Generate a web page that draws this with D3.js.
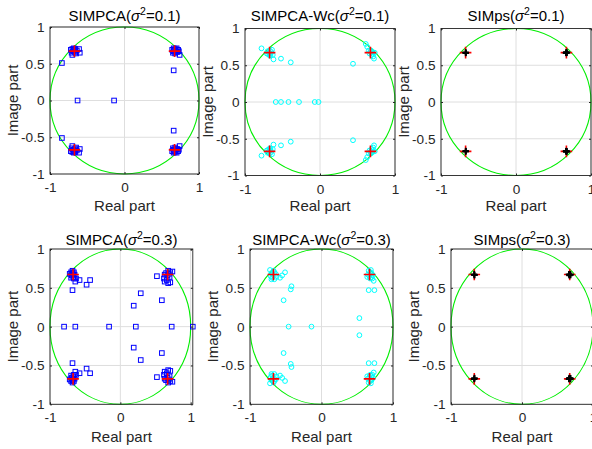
<!DOCTYPE html>
<html>
<head>
<meta charset="utf-8">
<script src="https://cdn.jsdelivr.net/npm/d3@7"></script>
<style>
  html, body { margin: 0; padding: 0; background: #fff; }
  svg { display: block; }
</style>
</head>
<body>
<svg id="chart" width="592" height="449"></svg>
<script>
// ---------------- DATA ----------------
const xTickValues = [-1, 0, 1];
const yTickValues = [-1, -0.5, 0, 0.5, 1];
const xTickLabels = ["-1", "0", "1"];
const yTickLabels = ["-1", "-0.5", "0", "0.5", "1"];

const methodNames = ["SIMPCA", "SIMPCA-Wc", "SIMps", "SIMPCA", "SIMPCA-Wc", "SIMps"];
const noiseLevels = ["0.1", "0.1", "0.1", "0.3", "0.3", "0.3"];

// true poles (real, imag)
const truePoles = [[0.672, 0.672], [0.672, -0.672], [-0.672, 0.672], [-0.672, -0.672]];

// estimated poles (real, imag)
const simpca01 = [
  [-0.72,0.69],[-0.70,0.70],[-0.68,0.69],[-0.66,0.70],[-0.69,0.67],[-0.67,0.66],[-0.71,0.65],[-0.70,0.62],[-0.64,0.68],[-0.61,0.70],[-0.60,0.65],[-0.65,0.64],[-0.68,0.71],[-0.66,0.68],
  [-0.72,-0.69],[-0.70,-0.70],[-0.68,-0.69],[-0.66,-0.70],[-0.69,-0.67],[-0.67,-0.66],[-0.71,-0.65],[-0.70,-0.62],[-0.64,-0.68],[-0.61,-0.71],[-0.60,-0.66],[-0.65,-0.64],[-0.68,-0.71],[-0.66,-0.68],
  [0.64,0.69],[0.66,0.71],[0.68,0.70],[0.70,0.71],[0.72,0.69],[0.66,0.67],[0.69,0.66],[0.71,0.66],[0.65,0.65],[0.68,0.64],[0.74,0.62],[0.73,0.67],[0.67,0.68],
  [0.64,-0.69],[0.66,-0.71],[0.68,-0.70],[0.70,-0.71],[0.72,-0.69],[0.66,-0.67],[0.69,-0.66],[0.71,-0.66],[0.65,-0.65],[0.68,-0.64],[0.74,-0.62],[0.73,-0.67],[0.67,-0.68],
  [-0.84,0.51],[-0.84,-0.51],[-0.63,0],[-0.14,0],[0.66,0.41],[0.66,-0.41]
];
const simpcaWc01 = [
  [-0.78,0.73],[-0.70,0.69],[-0.67,0.70],[-0.64,0.71],[-0.66,0.66],[-0.69,0.65],[-0.63,0.64],[-0.67,0.63],[-0.62,0.58],[-0.68,0.67],[-0.65,0.68],[-0.71,0.66],[-0.66,0.64],
  [-0.52,0.59],[-0.39,0.54],
  [-0.78,-0.73],[-0.70,-0.69],[-0.67,-0.70],[-0.64,-0.71],[-0.66,-0.66],[-0.69,-0.65],[-0.63,-0.64],[-0.67,-0.63],[-0.62,-0.58],[-0.68,-0.67],[-0.65,-0.68],[-0.71,-0.66],[-0.66,-0.64],
  [-0.52,-0.59],[-0.39,-0.54],
  [-0.59,0],[-0.52,0],[-0.42,0],[-0.28,0],[-0.07,0],[-0.02,0],
  [0.44,0.52],[0.44,-0.52],
  [0.61,0.79],[0.63,0.75],[0.65,0.70],[0.68,0.70],[0.70,0.68],[0.73,0.67],[0.69,0.64],[0.66,0.66],[0.71,0.62],[0.72,0.59],[0.67,0.68],[0.70,0.66],
  [0.61,-0.79],[0.63,-0.75],[0.65,-0.70],[0.68,-0.70],[0.70,-0.68],[0.73,-0.67],[0.69,-0.64],[0.66,-0.66],[0.71,-0.62],[0.72,-0.59],[0.67,-0.68],[0.70,-0.66]
];
const simps01 = [
  [0.665,0.668],[0.675,0.675],[0.670,0.665],[0.680,0.670],[0.670,0.678],
  [0.665,-0.668],[0.675,-0.675],[0.670,-0.665],[0.680,-0.670],[0.670,-0.678],
  [-0.668,0.670],[-0.672,0.675],[-0.670,0.665],
  [-0.668,-0.670],[-0.672,-0.675],[-0.670,-0.665]
];
const simpca03 = [
  [-0.72,0.68],[-0.70,0.70],[-0.68,0.69],[-0.66,0.70],[-0.69,0.66],[-0.67,0.64],[-0.65,0.67],[-0.63,0.62],[-0.64,0.58],[-0.58,0.60],[-0.70,0.63],[-0.66,0.62],[-0.68,0.72],[-0.67,0.67],
  [-0.68,0.47],[-0.48,0.54],[-0.43,0.60],
  [-0.72,-0.68],[-0.70,-0.70],[-0.68,-0.69],[-0.66,-0.70],[-0.69,-0.66],[-0.67,-0.64],[-0.65,-0.67],[-0.63,-0.62],[-0.64,-0.58],[-0.58,-0.60],[-0.70,-0.63],[-0.66,-0.62],[-0.68,-0.72],[-0.67,-0.67],
  [-0.68,-0.47],[-0.48,-0.54],[-0.43,-0.60],
  [-0.80,0],[-0.64,0],[-0.16,0],[0.22,0],[0.73,0],[1.03,0],
  [0.19,0.27],[0.19,-0.27],[0.29,0.43],[0.29,-0.43],[0.59,0.34],[0.59,-0.34],
  [0.52,0.65],[0.62,0.62],[0.63,0.67],[0.65,0.69],[0.67,0.66],[0.69,0.68],[0.71,0.70],[0.74,0.71],[0.70,0.64],[0.66,0.60],[0.68,0.56],[0.71,0.57],[0.63,0.58],[0.68,0.72],
  [0.52,-0.65],[0.62,-0.62],[0.63,-0.67],[0.65,-0.69],[0.67,-0.66],[0.69,-0.68],[0.71,-0.70],[0.74,-0.71],[0.70,-0.64],[0.66,-0.60],[0.68,-0.56],[0.71,-0.57],[0.63,-0.58],[0.68,-0.72]
];
const simpcaWc03 = [
  [-0.72,0.73],[-0.70,0.69],[-0.68,0.67],[-0.66,0.70],[-0.69,0.63],[-0.66,0.61],[-0.63,0.64],[-0.58,0.63],[-0.55,0.66],[-0.51,0.70],[-0.71,0.65],[-0.67,0.72],[-0.64,0.68],[-0.70,0.61],
  [-0.42,0.52],[-0.43,0.48],[-0.53,0.34],
  [-0.72,-0.73],[-0.70,-0.69],[-0.68,-0.67],[-0.66,-0.70],[-0.69,-0.63],[-0.66,-0.61],[-0.63,-0.64],[-0.58,-0.63],[-0.55,-0.66],[-0.51,-0.70],[-0.71,-0.65],[-0.67,-0.72],[-0.64,-0.68],[-0.70,-0.61],
  [-0.42,-0.52],[-0.43,-0.48],[-0.53,-0.34],
  [-0.46,0],[-0.14,0],
  [0.53,0.11],[0.53,-0.11],[0.66,0.47],[0.74,0.47],[0.73,0.59],[0.66,-0.47],[0.74,-0.47],[0.73,-0.59],
  [0.66,0.72],[0.68,0.70],[0.70,0.69],[0.65,0.67],[0.67,0.65],[0.70,0.64],[0.72,0.66],[0.68,0.62],[0.64,0.64],[0.69,0.73],[0.71,0.62],
  [0.66,-0.72],[0.68,-0.70],[0.70,-0.69],[0.65,-0.67],[0.67,-0.65],[0.70,-0.64],[0.72,-0.66],[0.68,-0.62],[0.64,-0.64],[0.69,-0.73],[0.71,-0.62]
];
const simps03 = [
  [0.665,0.665],[0.680,0.675],[0.670,0.660],[0.685,0.665],[0.660,0.675],
  [0.665,-0.665],[0.680,-0.675],[0.670,-0.660],[0.685,-0.665],[0.660,-0.675],
  [-0.668,0.668],[-0.675,0.675],[-0.670,0.662],
  [-0.668,-0.668],[-0.675,-0.675],[-0.670,-0.662]
];
const estimates = [simpca01, simpcaWc01, simps01, simpca03, simpcaWc03, simps03];
const markerKinds = ["square", "circle", "plus", "square", "circle", "plus"];
const xMaxValues = [1, 1, 1, 1.03, 1, 1];

// ---------------- LAYOUT / STYLE ----------------
const layout = [
  {left: 50,  right: 199, top: 27,   bottom: 174,   titleY: 20.5, xlabY: 210.5},
  {left: 245, right: 395, top: 28.5, bottom: 175.5, titleY: 20.5, xlabY: 210.5},
  {left: 441, right: 591, top: 28.5, bottom: 175.5, titleY: 20.5, xlabY: 210.5},
  {left: 50,  right: 192.8, top: 249, bottom: 404.3, titleY: 245, xlabY: 441.5},
  {left: 250, right: 393, top: 249, bottom: 404.3, titleY: 245, xlabY: 441.5},
  {left: 451, right: 593, top: 249, bottom: 404.3, titleY: 245, xlabY: 441.5}
];
const FONT = "'Liberation Sans', Arial, Helvetica, sans-serif";
const TEXT = "#262626";
const AXIS = "#262626";
const GRID = "#dedede";

const svg = d3.select("#chart");
svg.append("rect").attr("width", 592).attr("height", 449).attr("fill", "#fff");

layout.forEach((L, i) => {
  const x = d3.scaleLinear().domain([-1, xMaxValues[i]]).range([L.left, L.right]);
  const y = d3.scaleLinear().domain([-1, 1]).range([L.bottom, L.top]);
  const g = svg.append("g");

  // grid
  g.append("g").selectAll("line").data(xTickValues).join("line")
    .attr("x1", d => x(d)).attr("x2", d => x(d))
    .attr("y1", L.top).attr("y2", L.bottom)
    .attr("stroke", GRID).attr("stroke-width", 1);
  g.append("g").selectAll("line").data(yTickValues).join("line")
    .attr("y1", d => y(d)).attr("y2", d => y(d))
    .attr("x1", L.left).attr("x2", L.right)
    .attr("stroke", GRID).attr("stroke-width", 1);

  // unit circle
  g.append("ellipse")
    .attr("cx", x(0)).attr("cy", y(0))
    .attr("rx", x(1) - x(0)).attr("ry", y(0) - y(1))
    .attr("fill", "none").attr("stroke", "#00ee00").attr("stroke-width", 1.1);

  const drawTrue = () => {
    g.append("g").selectAll("path").data(truePoles).join("path")
      .attr("d", d => {
        const cx = x(d[0]), cy = y(d[1]), s = 5.8;
        return `M${cx - s},${cy}H${cx + s}M${cx},${cy - s}V${cy + s}`;
      })
      .attr("stroke", "#ff0000").attr("stroke-width", 1.6).attr("fill", "none");
  };

  const pts = estimates[i];
  const kind = markerKinds[i];
  if (kind === "square") {
    g.append("g").selectAll("rect").data(pts).join("rect")
      .attr("x", d => x(d[0]) - 2.3).attr("y", d => y(d[1]) - 2.3)
      .attr("width", 4.6).attr("height", 4.6)
      .attr("fill", "none").attr("stroke", "#0000ff").attr("stroke-width", 1);
    drawTrue();
  } else if (kind === "circle") {
    g.append("g").selectAll("circle").data(pts).join("circle")
      .attr("cx", d => x(d[0])).attr("cy", d => y(d[1])).attr("r", 2.4)
      .attr("fill", "none").attr("stroke", "#00ffff").attr("stroke-width", 1);
    drawTrue();
  } else {
    drawTrue();
    g.append("g").selectAll("path").data(pts).join("path")
      .attr("d", d => {
        const cx = x(d[0]), cy = y(d[1]), s = 3.2;
        return `M${cx - s},${cy}H${cx + s}M${cx},${cy - s}V${cy + s}`;
      })
      .attr("stroke", "#000").attr("stroke-width", 1.7).attr("fill", "none");
  }

  // axes
  const styleAxis = sel => {
    sel.select(".domain").remove();
    sel.selectAll("line").attr("stroke", AXIS);
    sel.selectAll("text").attr("fill", TEXT).attr("font-family", FONT).attr("font-size", 13.6);
  };
  g.append("g").attr("transform", `translate(0,${L.bottom})`)
    .call(d3.axisBottom(x).tickValues(xTickValues).tickFormat((d, k) => xTickLabels[k])
      .tickSizeInner(-2).tickSizeOuter(0).tickPadding(8.5))
    .call(styleAxis);
  g.append("g").attr("transform", `translate(${L.left},0)`)
    .call(d3.axisLeft(y).tickValues(yTickValues).tickFormat((d, k) => yTickLabels[k])
      .tickSizeInner(-2).tickSizeOuter(0).tickPadding(5.5))
    .call(styleAxis);
  g.append("g").attr("transform", `translate(0,${L.top})`)
    .call(d3.axisTop(x).tickValues(xTickValues).tickFormat("").tickSizeInner(-2).tickSizeOuter(0))
    .call(styleAxis);
  g.append("g").attr("transform", `translate(${L.right},0)`)
    .call(d3.axisRight(y).tickValues(yTickValues).tickFormat("").tickSizeInner(-2).tickSizeOuter(0))
    .call(styleAxis);

  // box
  g.append("rect")
    .attr("x", L.left).attr("y", L.top)
    .attr("width", L.right - L.left).attr("height", L.bottom - L.top)
    .attr("fill", "none").attr("stroke", AXIS).attr("stroke-width", 0.9);

  const cxMid = (L.left + L.right) / 2;
  const cyMid = (L.top + L.bottom) / 2;

  // title
  const t = g.append("text")
    .attr("x", cxMid).attr("y", L.titleY)
    .attr("text-anchor", "middle")
    .attr("font-family", FONT).attr("font-size", 15).attr("fill", "#000");
  t.append("tspan").text(methodNames[i] + "(");
  t.append("tspan").attr("font-style", "italic").text("σ");
  t.append("tspan").attr("font-size", 10.5).attr("dy", -6).text("2");
  t.append("tspan").attr("dy", 6).text("=" + noiseLevels[i] + ")");

  // x label
  g.append("text")
    .attr("x", cxMid).attr("y", L.xlabY)
    .attr("text-anchor", "middle")
    .attr("font-family", FONT).attr("font-size", 15).attr("fill", TEXT)
    .text("Real part");

  // y label
  g.append("text")
    .attr("transform", `translate(${L.left - 32},${cyMid}) rotate(-90)`)
    .attr("text-anchor", "middle")
    .attr("font-family", FONT).attr("font-size", 15).attr("fill", TEXT)
    .text("Image part");
});
</script>
</body>
</html>
